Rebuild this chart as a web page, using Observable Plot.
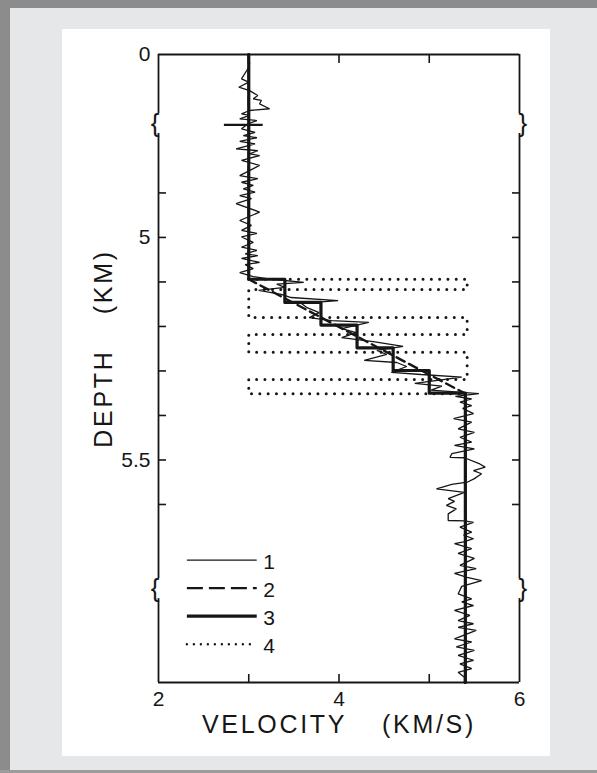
<!DOCTYPE html>
<html>
<head>
<meta charset="utf-8">
<script src="https://cdn.jsdelivr.net/npm/d3@7"></script>
<script src="https://cdn.jsdelivr.net/npm/@observablehq/plot@0.6"></script>
<style>
  html, body { margin: 0; padding: 0; }
  body { width: 597px; height: 773px; background: #e6e7e9; position: relative; overflow: hidden; }
  #bt { position: absolute; left: 0; top: 0; width: 597px; height: 8px; background: #8c8c8c; }
  #bl { position: absolute; left: 0; top: 0; width: 10px; height: 773px; background: #8c8c8c; }
  #bb { position: absolute; left: 0; bottom: 0; width: 597px; height: 3px; background: #9c9c9c; }
  #panel { position: absolute; left: 62px; top: 29px; width: 488px; height: 727px; background: #fff; }
  #panel svg { display: block; }
</style>
</head>
<body>
<div id="bt"></div><div id="bl"></div><div id="bb"></div>
<div id="panel"></div>
<script>
// ---------- data ----------
const velocityDomain = [2, 6];
const depthExtent = [0, 6.0];
const xTickValues = [3, 4, 5];
const xLabelValues = [2, 4, 6];
const xLabelText = ["2", "4", "6"];
const yTickValues = [4.9, 5.0, 5.1, 5.2, 5.3, 5.4, 5.5, 5.6];
const yLabelValues = [0, 5, 5.5];
const yLabelText = ["0", "5", "5.5"];
const axisBreakDepths = [4.744, 5.789];
const logBreakSpan = [2.73, 3.16];

// 1: measured velocity log [depth km, velocity km/s]
const logSamples = [
  [0.00,2.99],[0.64,3.01],[0.98,2.99],[1.67,2.92],[1.90,3.00],[2.25,2.89],[2.48,3.01],[2.82,3.10],
  [3.05,3.05],[3.16,3.14],[3.39,3.12],[3.73,3.23],[3.85,3.01],[4.08,2.92],[4.19,3.01],[4.42,2.90],
  [4.54,3.09],[4.745,2.99],
  [4.756,2.92],[4.764,3.07],[4.771,2.94],[4.776,3.09],[4.784,2.90],[4.790,3.07],[4.801,2.86],[4.805,3.10],
  [4.812,3.01],[4.816,3.12],[4.827,2.92],[4.838,3.12],[4.861,2.90],[4.868,3.10],[4.876,2.92],[4.883,3.05],
  [4.891,2.94],[4.898,3.07],[4.906,2.90],[4.913,3.03],[4.924,2.86],[4.943,3.12],[4.962,2.90],[4.973,3.03],
  [4.984,2.92],[4.991,3.09],[4.999,2.92],[5.011,3.05],[5.022,2.92],[5.029,3.09],[5.037,2.96],
  [5.041,3.10],[5.047,2.92],[5.056,3.12],[5.061,2.96],[5.070,3.05],[5.079,2.90],[5.088,3.05],[5.094,3.25],
  [5.101,3.61],[5.105,3.31],[5.112,3.40],[5.119,3.11],[5.128,3.36],[5.135,3.47],[5.142,3.99],[5.148,3.58],
  [5.157,3.64],[5.169,3.78],[5.180,3.67],[5.187,3.92],[5.191,4.33],[5.205,4.03],[5.214,4.19],[5.225,4.03],
  [5.234,4.38],[5.245,4.71],[5.254,4.42],[5.263,4.53],[5.276,4.28],[5.281,4.64],[5.290,4.75],[5.303,4.58],
  [5.308,4.91],[5.314,5.36],[5.328,4.84],[5.334,5.14],[5.343,5.02],[5.351,5.55],[5.357,5.29],
  [5.363,5.47],[5.370,5.34],[5.378,5.47],[5.384,5.37],[5.396,5.49],[5.407,5.27],[5.415,5.47],[5.430,5.32],
  [5.438,5.50],[5.449,5.34],[5.460,5.47],[5.467,5.28],[5.475,5.50],[5.486,5.25],[5.494,5.23],[5.495,5.39],
  [5.509,5.56],[5.516,5.62],[5.524,5.49],[5.531,5.58],[5.542,5.50],[5.550,5.42],[5.555,5.25],[5.565,5.08],
  [5.573,5.39],[5.587,5.21],[5.593,5.28],[5.602,5.19],[5.610,5.30],[5.621,5.21],[5.636,5.21],[5.637,5.39],
  [5.640,5.49],[5.651,5.34],[5.662,5.47],[5.669,5.38],[5.677,5.49],[5.684,5.38],[5.688,5.28],[5.699,5.47],
  [5.710,5.32],[5.721,5.50],[5.737,5.34],[5.744,5.52],[5.755,5.28],[5.764,5.42],[5.771,5.58],[5.784,5.36],
  [5.801,5.32],[5.812,5.47],[5.819,5.36],[5.827,5.49],[5.838,5.28],[5.849,5.45],[5.861,5.32],[5.868,5.49],
  [5.876,5.32],[5.883,5.52],[5.902,5.28],[5.909,5.47],[5.920,5.30],[5.928,5.50],[5.939,5.32],[5.950,5.49],
  [5.958,5.34],[5.969,5.47],[5.977,5.32],[5.988,5.39],[6.0,5.39]
];

// 2: linear gradient model (dashed)
const rampDepth = [0, 5.094, 5.351, 6.0];
const rampVelocity = [3.0, 3.0, 5.4, 5.4];
// 3: staircase model (thick), layer tops
const stairDepth = [0, 5.094, 5.146, 5.197, 5.248, 5.299, 5.350, 6.0];
const stairVelocity = [3.0, 3.4, 3.8, 4.2, 4.6, 5.0, 5.4, 5.4];
// 4: binary thin-layer model (dotted), layer boundaries
const binaryDepth = [5.094, 5.094, 5.117, 5.180, 5.218, 5.258, 5.319, 5.351];
const binaryVelocity = [3.0, 5.42, 3.0, 5.42, 3.0, 5.42, 3.0, 5.42];

const legendLabels = ["1", "2", "3", "4"];

// ---------- layout ----------
const W = 488, H = 727;
const mL = 96, mR = 31, mT = 25, mB = 74;
const ink = "#161616";

// broken depth axis: section above the upper break is compressed
const B = axisBreakDepths[0], squeeze = 0.03268;
const depthT = d => d < B ? B - (B - d) * squeeze : d;
const depthTinv = u => u < B ? B - (B - u) / squeeze : u;
const pxPerUnit = (H - mB - mT) / (depthT(depthExtent[1]) - depthT(depthExtent[0]));
const gaps = axisBreakDepths.map(b => [depthTinv(depthT(b) - 10 / pxPerUnit), depthTinv(depthT(b) + 10 / pxPerUnit)]);
const cuts = [depthExtent[0], ...gaps.flat(), depthExtent[1]];
const sideSegs = [];
for (const x of velocityDomain) for (let i = 0; i < cuts.length; i += 2) sideSegs.push({x, y1: cuts[i], y2: cuts[i + 1]});

const zip = (d, v) => d.map((depth, i) => ({depth, velocity: v[i]}));
const logData = logSamples.map(([depth, velocity]) => ({depth, velocity}));

const legendTop = 5.725, legendStep = 0.063, legendX1 = 2.32, legendX2 = 3.094;
const legendRows = legendLabels.map((label, i) => ({label, depth: legendTop + i * legendStep}));

const tickOpts = {tickSize: -8, tickFormat: () => "", label: null, strokeWidth: 1.6, stroke: ink};
const braceOpts = {fontSize: 26, fontFamily: '"Liberation Sans", Arial, sans-serif', fill: ink};

const chart = Plot.plot({
  width: W, height: H,
  marginLeft: mL, marginRight: mR, marginTop: mT, marginBottom: mB,
  x: {domain: velocityDomain},
  y: {transform: depthT, reverse: true},
  style: {fontFamily: '"Liberation Sans", Arial, sans-serif', fontSize: "21px", color: ink, background: "transparent", overflow: "visible"},
  marks: [
    Plot.ruleY(depthExtent, {x1: velocityDomain[0], x2: velocityDomain[1], stroke: ink, strokeWidth: 1.8}),
    Plot.ruleX(sideSegs, {x: "x", y1: "y1", y2: "y2", stroke: ink, strokeWidth: 1.8}),
    Plot.text(axisBreakDepths, {x: velocityDomain[0], y: d => d, text: () => "{", textAnchor: "end", dx: 1, ...braceOpts}),
    Plot.text(axisBreakDepths, {x: velocityDomain[1], y: d => d, text: () => "}", textAnchor: "start", dx: -1, ...braceOpts}),
    Plot.axisX({anchor: "bottom", ticks: xTickValues, ...tickOpts}),
    Plot.axisX({anchor: "top", ticks: xTickValues, ...tickOpts}),
    Plot.axisY({anchor: "left", ticks: yTickValues, ...tickOpts}),
    Plot.axisY({anchor: "right", ticks: yTickValues, ...tickOpts}),
    Plot.text(xLabelValues, {x: d => d, text: (d, i) => xLabelText[i], frameAnchor: "bottom", dy: 23, fontSize: 21, fill: ink}),
    Plot.text(yLabelValues, {y: d => d, text: (d, i) => yLabelText[i], frameAnchor: "left", dx: -8, textAnchor: "end", fontSize: 21, fill: ink}),
    Plot.text(["VELOCITY  (KM/S)"], {frameAnchor: "bottom", dy: 50, fontSize: 25, fill: ink}),
    Plot.text(["DEPTH  (KM)"], {frameAnchor: "left", textAnchor: "middle", rotate: -90, dx: -55, dy: -20, fontSize: 25, fill: ink}),
    Plot.line(zip(binaryDepth, binaryVelocity), {x: "velocity", y: "depth", curve: "step-before", stroke: ink, strokeWidth: 3, strokeDasharray: "0,8.3", strokeLinecap: "round"}),
    Plot.line(logData, {x: "velocity", y: "depth", stroke: ink, strokeWidth: 1.3, strokeLinejoin: "miter"}),
    Plot.ruleY([axisBreakDepths[0] + 0.003], {x1: logBreakSpan[0], x2: logBreakSpan[1], stroke: ink, strokeWidth: 2.2}),
    Plot.line(zip(rampDepth, rampVelocity), {x: "velocity", y: "depth", stroke: ink, strokeWidth: 2.4, strokeDasharray: "9,5"}),
    Plot.line(zip(stairDepth, stairVelocity), {x: "velocity", y: "depth", curve: "step-before", stroke: ink, strokeWidth: 3.2}),
    Plot.ruleY([legendRows[0]], {y: "depth", x1: legendX1, x2: legendX2, stroke: ink, strokeWidth: 1.2}),
    Plot.ruleY([legendRows[1]], {y: "depth", x1: legendX1, x2: legendX2, stroke: ink, strokeWidth: 2.4, strokeDasharray: "16,6"}),
    Plot.ruleY([legendRows[2]], {y: "depth", x1: legendX1, x2: legendX2, stroke: ink, strokeWidth: 3.2}),
    Plot.ruleY([legendRows[3]], {y: "depth", x1: legendX1, x2: legendX2, stroke: ink, strokeWidth: 2.4, strokeDasharray: "0,7", strokeLinecap: "round"}),
    Plot.text(legendRows, {x: legendX2, y: "depth", text: "label", textAnchor: "start", dx: 6, dy: 2, fontSize: 21, fill: ink})
  ]
});

d3.select(chart).selectAll("text")
  .filter(function () { return /\(KM/.test(this.textContent); })
  .style("letter-spacing", "2.7px")
  .style("word-spacing", "8px")
  .style("white-space", "pre");

document.getElementById("panel").appendChild(chart);
</script>
</body>
</html>
